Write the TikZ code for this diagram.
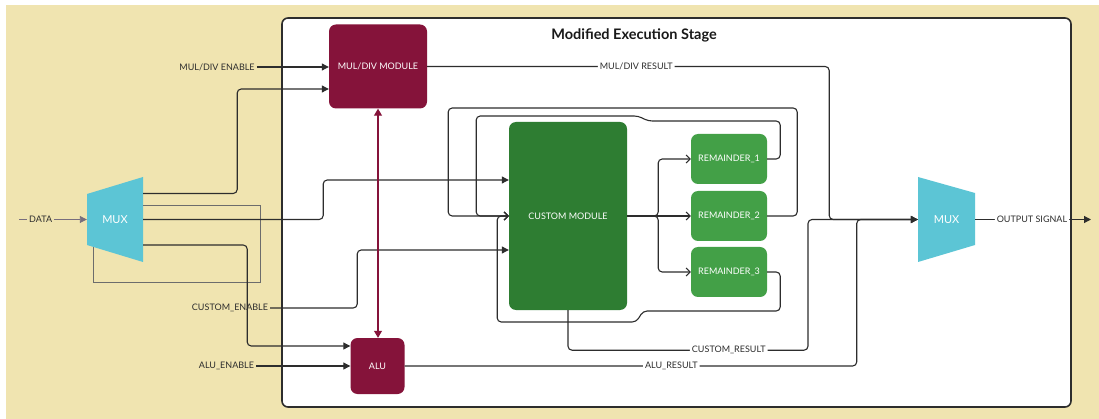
\documentclass[tikz,border=0pt]{standalone}
\usepackage{fontspec}
\setmainfont{Lato}
\usepackage{tikz}
\usetikzlibrary{arrows.meta}
\usetikzlibrary{calc}

\definecolor{beige}{RGB}{240,228,176}
\definecolor{maroon}{RGB}{133,19,58}
\definecolor{muxblue}{RGB}{92,197,213}
\definecolor{darkgreen}{RGB}{46,125,50}
\definecolor{lightgreen}{RGB}{67,160,71}
\definecolor{wire}{RGB}{45,45,45}
\definecolor{datagray}{RGB}{120,110,125}

\begin{document}
\begin{tikzpicture}[x=1pt, y=-1pt,
        stage_style/.style={draw=wire, line width=1.6pt, fill=white, rounded corners=6pt, minimum width=789pt, minimum height=389pt},
        title_style/.style={font=\fontsize{14.5}{17}\selectfont\bfseries, text=black!90},
        block_style/.style={fill=maroon, text=white, rounded corners=7pt, font=\fontsize{9}{11}\selectfont},
        custom_style/.style={fill=darkgreen, text=white, rounded corners=7pt, font=\fontsize{9}{11}\selectfont, minimum width=118pt, minimum height=188pt},
        rem_style/.style={fill=lightgreen, text=white, rounded corners=7pt, font=\fontsize{9}{11}\selectfont, minimum width=76pt, minimum height=50pt},
        mux_style/.style={text=white, font=\fontsize{11}{13}\selectfont, minimum height=85pt, inner sep=0pt},
        label_style/.style={text=wire, font=\fontsize{9}{11}\selectfont, inner sep=2pt},
        line_label_style/.style={fill=white, text=wire, font=\fontsize{9}{11}\selectfont, inner sep=2pt},
        edge_style/.style={draw=wire, line width=1.1pt, rounded corners=4pt, -{Triangle[length=7pt,width=7pt]}},
        feedback_style/.style={draw=wire, line width=1.1pt, rounded corners=4pt, -{Straight Barb[length=4pt,width=8pt]}},
        loop_style/.style={draw=wire!70, line width=0.9pt},
        link_style/.style={draw=maroon, line width=1.1pt, {Triangle[length=7pt,width=8pt]}-{Triangle[length=7pt,width=8pt]}}]

        \fill[white] (0,0) rectangle (1099,419);
        \fill[beige] (6,5) rectangle (1099,419);
        \useasboundingbox (0,0) rectangle (1099,419);

        \node [stage_style](stage) at (676.5,212.5) {};

        \node [title_style](title) at (634,35) {Modified Execution Stage};

        \node [block_style, minimum width=98pt, minimum height=84pt](mul_div) at (378,66.5) {MUL/DIV MODULE};

        \node [block_style, minimum width=54pt, minimum height=56pt](alu) at (377.5,366) {ALU};

        \node [custom_style](custom) at (568,216) {CUSTOM MODULE};

        \node [rem_style](rem1) at (729,159) {REMAINDER\_1};

        \node [rem_style](rem2) at (729,216) {REMAINDER\_2};

        \node [rem_style](rem3) at (729,272) {REMAINDER\_3};

        \fill[muxblue] (87,194) -- (143,177) -- (143,262) -- (87,245) -- cycle;
        \node [mux_style, minimum width=56pt](mux_in) at (115,219.5) {MUX};

        \fill[muxblue] (918,177) -- (975,193) -- (975,245) -- (918,262) -- cycle;
        \node [mux_style, minimum width=57pt](mux_out) at (946.5,219.5) {MUX};

        \node [label_style](en_muldiv) at (217,67) {MUL/DIV ENABLE};

        \node [label_style](en_custom) at (230,308) {CUSTOM\_ENABLE};

        \node [label_style](en_alu) at (226.5,366) {ALU\_ENABLE};

        \coordinate (data_start) at (19,219.5);

        \coordinate (out_end) at (1091,219.5);

        \draw [draw=datagray, line width=0.9pt, -{Triangle[length=7pt,width=7pt]}] (data_start) -- node[pos=0.32, fill=beige, label_style]{DATA} (mux_in.west);

        \draw [edge_style] (en_muldiv.east) -- (en_muldiv.east -| mul_div.west);

        \draw [edge_style] ([yshift=26pt]mux_in.east) -- ++(94,0) |- ([yshift=-22.5pt]mul_div.west);

        \draw [loop_style] ([yshift=14.5pt]mux_in.east) -- ++(117,0) -- ++(0,77) -- ++(-167,0) -- ++(0,-35);

        \draw [edge_style] (mux_in.east) -- ++(180,0) |- ([yshift=36pt]custom.west);

        \draw [edge_style] ([yshift=-25.5pt]mux_in.east) -- ++(104,0) |- ([yshift=20pt]alu.west);

        \draw [edge_style] (en_custom.east) -- ++(87,0) |- ([yshift=-34pt]custom.west);

        \draw [edge_style] (en_alu.east) -- (en_alu.east -| alu.west);

        \draw [link_style] (mul_div.south) -- (mul_div.south |- alu.north);

        \draw [edge_style] (mul_div.east) -- node[pos=0.52, line_label_style]{MUL/DIV RESULT} ++(402,0) |- (mux_out.west);

        \draw [edge_style] (custom.south) -- ++(0,40) -- node[pos=0.67, line_label_style]{CUSTOM\_RESULT} ++(240,0) |- (mux_out.west);

        \draw [edge_style] (alu.east) -- node[pos=0.59, line_label_style]{ALU\_RESULT} ++(452,0) |- (mux_out.west);

        \draw [feedback_style] (custom.east) -- ++(31,0) |- (rem1.west);

        \draw [feedback_style] (custom.east) -- (rem2.west);

        \draw [feedback_style] (custom.east) -- ++(31,0) |- (rem3.west);

        \draw [feedback_style] (rem2.east) -- ++(30,0) -- ++(0,-108) -- ++(-349,0) |- (custom.west);

        \draw [feedback_style] (rem1.east) -- ++(13,0) -- ++(0,-38) -- ++(-132,0) -- ++(-10,-5) -- ++(-162,0) |- (custom.west);

        \draw [feedback_style] (rem3.east) -- ++(13,0) -- ++(0,39) -- ++(-137,0) -- ++(-7,11) -- ++(-139,0) |- (custom.west);

        \draw [edge_style] (mux_out.east) -- node[pos=0.49, line_label_style]{OUTPUT SIGNAL} (out_end);

        \end{tikzpicture}
\end{document}
